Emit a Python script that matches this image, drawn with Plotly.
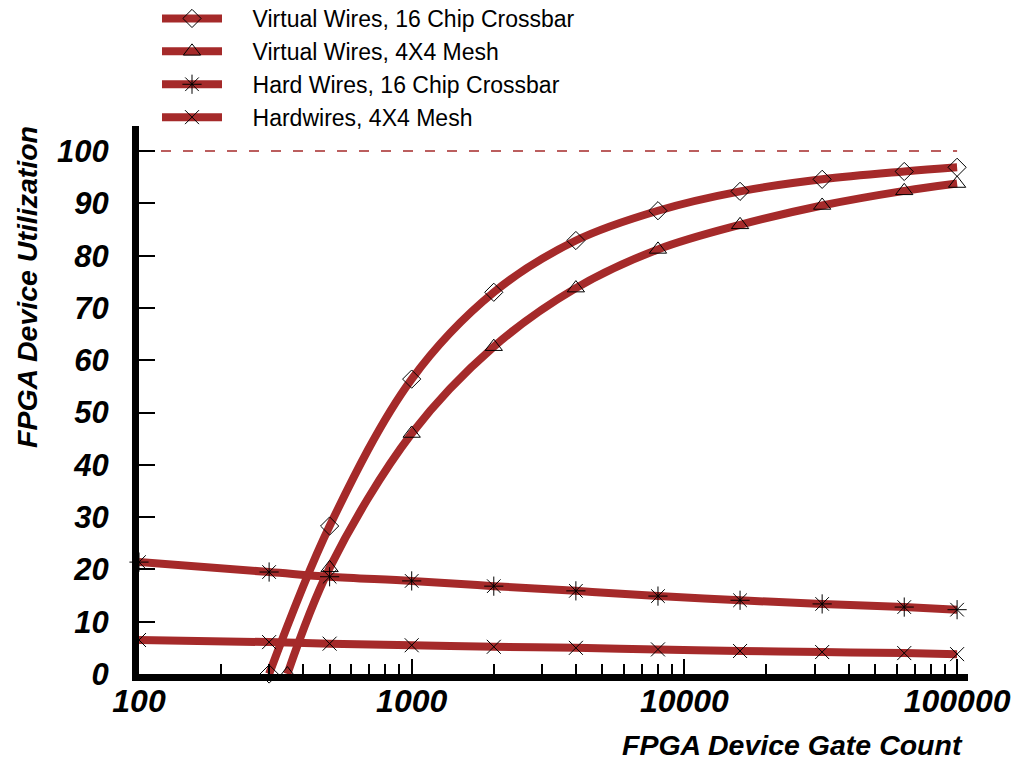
import plotly.graph_objects as go

# ---- data ----
vw_xbar_x = [300, 500, 1000, 2000, 4000, 8000, 16000, 32000, 64000, 100000]
vw_xbar_y = [0, 28.3, 56.4, 73.0, 82.9, 88.6, 92.3, 94.6, 96.1, 96.9]

vw_mesh_x = [350, 500, 1000, 2000, 4000, 8000, 16000, 32000, 64000, 100000]
vw_mesh_y = [0, 20.3, 46.0, 62.6, 73.8, 81.2, 85.9, 89.6, 92.4, 93.8]

hw_xbar_x = [100, 300, 500, 1000, 2000, 4000, 8000, 16000, 32000, 64000, 100000]
hw_xbar_y = [21.4, 19.5, 18.6, 17.8, 16.8, 15.9, 14.9, 14.1, 13.4, 12.8, 12.3]

hw_mesh_x = [100, 300, 500, 1000, 2000, 4000, 8000, 16000, 32000, 64000, 100000]
hw_mesh_y = [6.5, 6.1, 5.8, 5.5, 5.2, 5.0, 4.7, 4.4, 4.2, 4.0, 3.8]

limit_x = [100, 100000]
limit_y = [100, 100]

names = ["Virtual Wires, 16 Chip Crossbar", "Virtual Wires, 4X4 Mesh",
         "Hard Wires, 16 Chip Crossbar", "Hardwires, 4X4 Mesh"]
y_ticks = [0, 10, 20, 30, 40, 50, 60, 70, 80, 90, 100]
x_title = "FPGA Device Gate Count"
y_title = "FPGA Device Utilization"

LINE = "#A52A2A"
FONT = "Liberation Sans, Arial, sans-serif"

# page has an 8px body margin; figure is sized to the visible area
W, H = 1013, 753
L, R, T, B = 131, 53, 118, 87
PW, PH = W - L - R, H - T - B

fig = go.Figure()

fig.add_trace(go.Scatter(x=limit_x, y=limit_y, mode="lines", showlegend=False,
                         line=dict(color=LINE, width=1.5, dash="10px,12px"),
                         hoverinfo="skip"))

series = [
    (vw_xbar_x, vw_xbar_y, "diamond-open", 14),
    (vw_mesh_x, vw_mesh_y, "triangle-up-open", 15),
    (hw_xbar_x, hw_xbar_y, "asterisk-open", 16),
    (hw_mesh_x, hw_mesh_y, "x-thin-open", 14),
]
for i, (xs, ys, sym, sz) in enumerate(series):
    fig.add_trace(go.Scatter(
        x=xs, y=ys, name="    " + names[i], mode="lines+markers",
        legendgroup=f"g{i}", cliponaxis=False,
        line=dict(color=LINE, width=8, shape="spline", smoothing=1.0),
        marker=dict(symbol=sym, size=sz, color="black",
                    line=dict(color="black", width=1)),
    ))

fig.update_layout(
    width=W, height=H,
    margin=dict(l=L, r=R, t=T, b=B, autoexpand=False),
    paper_bgcolor="white", plot_bgcolor="white",
    font=dict(family=FONT, color="black"),
    showlegend=True,
    legend=dict(
        x=(149 - L) / PW, y=1 + (T + 11) / PH, xref="paper", yref="paper",
        xanchor="left", yanchor="top",
        font=dict(family=FONT, size=23, color="black"),
        bgcolor="rgba(0,0,0,0)", tracegroupgap=0, itemwidth=60,
    ),
    xaxis=dict(
        type="log", range=[2, 5.04],
        showgrid=False, zeroline=False,
        showline=True, linecolor="black", linewidth=7,
        tickmode="linear", tick0=0, dtick=1, tickformat="d",
        ticks="inside", ticklen=15, tickwidth=2, tickcolor="black",
        minor=dict(ticks="inside", dtick="D1", ticklen=10, tickwidth=2,
                   tickcolor="black", showgrid=False),
        tickfont=dict(family=FONT, size=32, color="black", weight="bold", style="italic"),
        ticklabelstandoff=-7,
    ),
    yaxis=dict(
        range=[0, 104.8],
        showgrid=False, zeroline=False,
        showline=True, linecolor="black", linewidth=7,
        tickmode="array", tickvals=y_ticks, ticktext=[str(v) for v in y_ticks],
        ticks="inside", ticklen=16, tickwidth=2, tickcolor="black",
        tickfont=dict(family=FONT, size=31, color="black", weight="bold", style="italic"),
        ticklabelstandoff=17,
    ),
)

fig.add_annotation(text=x_title, xref="paper", yref="paper",
                   x=(965 - 8 - L) / PW, y=-(745 - 8 - (H - B)) / PH,
                   xanchor="right", yanchor="middle", showarrow=False,
                   font=dict(family=FONT, size=28.5, color="black", weight="bold", style="italic"))
fig.add_annotation(text=y_title, xref="paper", yref="paper",
                   x=-(L - (27 - 8)) / PW, y=((H - B) - (287 - 8)) / PH,
                   xanchor="center", yanchor="middle", textangle=-90, showarrow=False,
                   font=dict(family=FONT, size=28.5, color="black", weight="bold", style="italic"))

fig.write_html("out.html")
